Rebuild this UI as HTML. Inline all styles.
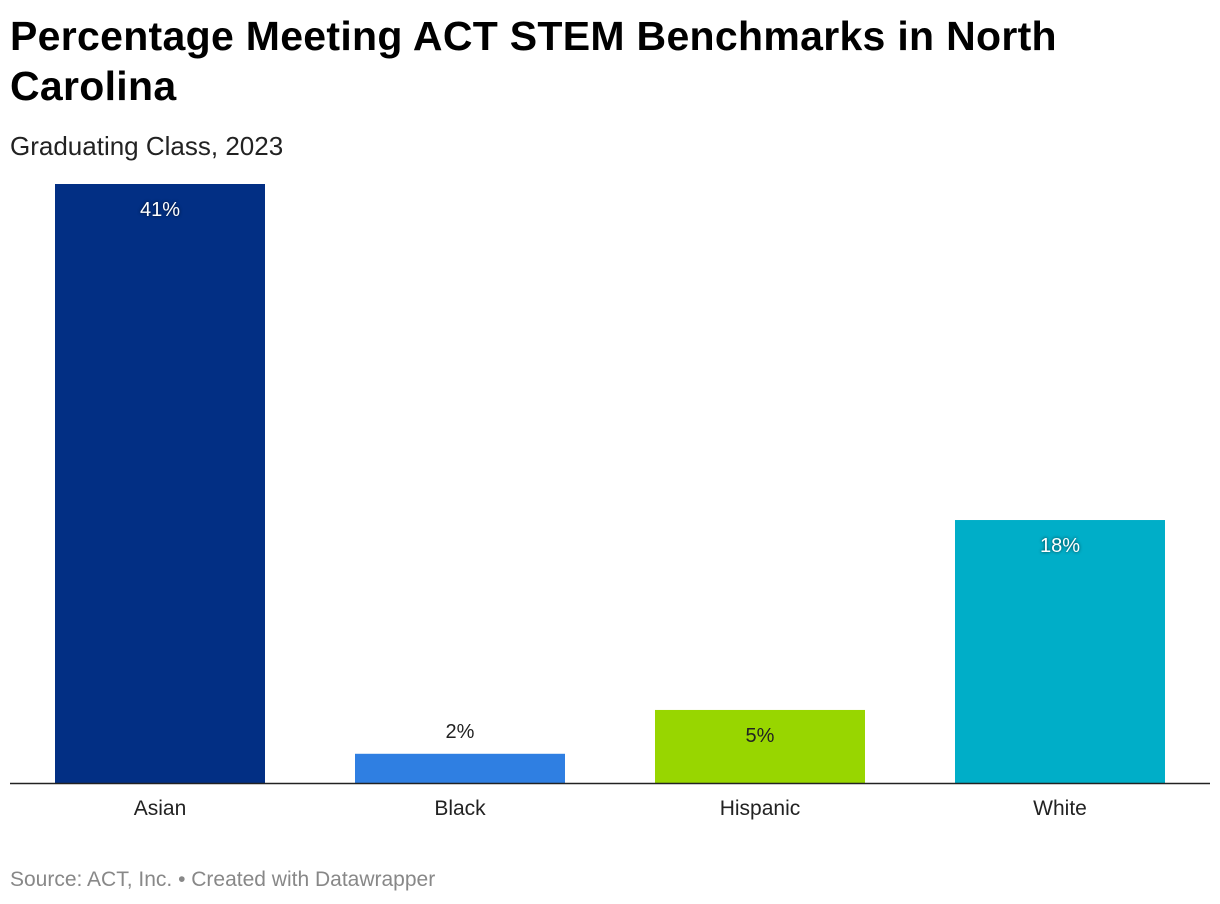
<!DOCTYPE html>
<html><head><meta charset="utf-8"><style>
body{margin:0;width:1220px;height:904px;background:#fff;font-family:"Liberation Sans",Arial,sans-serif;overflow:hidden;position:relative}
#title{position:absolute;left:10px;top:11px;width:1100px;font-size:41px;font-weight:bold;line-height:50px;color:#000;letter-spacing:0.3px}
#sub{position:absolute;left:10px;top:131px;font-size:26px;color:#222}
#src{position:absolute;left:10px;top:868px;font-size:21px;color:#888}
svg{position:absolute;left:0;top:0}
</style></head><body>
<div id="title">Percentage Meeting ACT STEM Benchmarks in North Carolina</div>
<div id="sub">Graduating Class, 2023</div>
<svg id="chart" width="1220" height="904"></svg>
<div id="src">Source: ACT, Inc. • Created with Datawrapper</div>
<script>
const categories=["Asian","Black","Hispanic","White"];
const values=[41,2,5,18];
const colors=["#022f84","#2f7fe2","#98d600","#00aec8"];
(function(){
const svg=document.getElementById('chart');
const NS="http://www.w3.org/2000/svg";
const x0=10,band=300,barW=210,base=783,topY=184,maxV=41;
const y=v=>base-(v/maxV)*(base-topY);
const xc=i=>x0+band*i+band/2;
function mk(t,a){const e=document.createElementNS(NS,t);for(const k in a)e.setAttribute(k,a[k]);svg.appendChild(e);return e;}
categories.forEach((c,i)=>{
  const r=mk('rect',{x:xc(i)-barW/2,y:y(values[i]),width:barW,height:base-y(values[i]),fill:colors[i]});
  
  
  const h=base-y(values[i]);
  const inside=h>40;
  const dark=i===2||!inside;
  const t=mk('text',{x:xc(i),y:inside?y(values[i])+32:y(values[i])-16,'text-anchor':'middle','font-size':20,fill:dark?'#222':'#fff',style:dark?'':'text-shadow:0 0 3px rgba(0,0,0,0.7)'});
  t.textContent=values[i]+'%';
  
  
  const l=mk('text',{x:xc(i),y:815,'text-anchor':'middle','font-size':21,fill:'#222'});
  l.textContent=c;
  
  
});
const ax=mk('line',{x1:10,x2:1210,y1:base+0.5,y2:base+0.5,stroke:'#222','stroke-width':1.5});


})();
</script>
</body></html>
